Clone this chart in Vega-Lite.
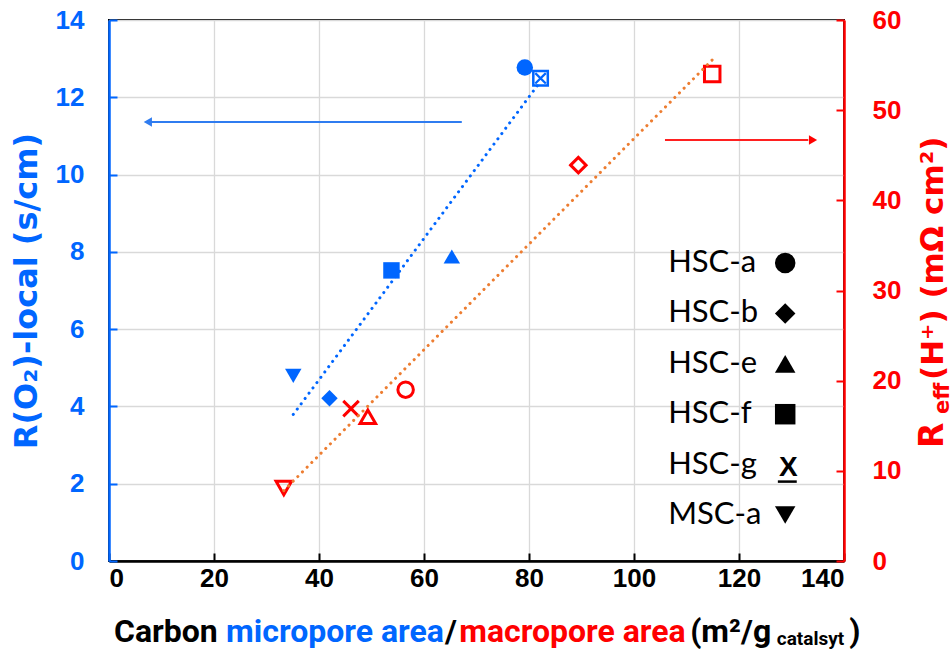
{
  "$schema": "https://vega.github.io/schema/vega-lite/v6.json",
  "width": 735,
  "height": 541,
  "autosize": {"type": "none"},
  "padding": {"left": 109, "top": 20, "right": 107, "bottom": 89},
  "background": "white",
  "config": {
    "view": {"stroke": "#000000", "strokeWidth": 2},
    "axis": {
      "labelFont": "Liberation Sans",
      "labelFontWeight": "bold",
      "labelFontSize": 26,
      "tickSize": -8,
      "tickWidth": 2,
      "domainWidth": 2.5,
      "gridColor": "#D9D9D9",
      "gridWidth": 1.3
    }
  },
  "datasets": {
    "samples": [
      {"sample": "HSC-a", "micro": 79.2, "ro2": 12.77, "macro": 56.5, "rh": 19.0},
      {"sample": "HSC-b", "micro": 42.0, "ro2": 4.21, "macro": 89.4, "rh": 43.9},
      {"sample": "HSC-e", "micro": 65.3, "ro2": 7.88, "macro": 49.3, "rh": 16.0},
      {"sample": "HSC-f", "micro": 53.8, "ro2": 7.52, "macro": 114.9, "rh": 54.0},
      {"sample": "HSC-g", "micro": 82.2, "ro2": 12.49, "macro": 46.1, "rh": 16.9},
      {"sample": "MSC-a", "micro": 35.1, "ro2": 4.79, "macro": 33.3, "rh": 8.1}
    ]
  },
  "layer": [
    {
      "layer": [
        {
          "data": {"name": "samples"},
          "transform": [{"filter": "datum.sample !== 'HSC-g'"}],
          "mark": {"type": "point", "filled": true, "opacity": 1, "size": 270, "color": "#0066FF"},
          "encoding": {
            "x": {
              "field": "micro", "type": "quantitative", "title": null,
              "scale": {"domain": [0, 140], "nice": false, "zero": false},
              "axis": {
                "values": [0, 20, 40, 60, 80, 100, 120, 140],
                "grid": true,
                "labelColor": "#000000",
                "domainColor": "#000000",
                "tickColor": "#000000",
                "labelPadding": 12,
                "title": null
              }
            },
            "y": {
              "field": "ro2", "type": "quantitative",
              "scale": {"domain": [0, 14], "nice": false, "zero": false},
              "axis": {
                "orient": "left",
                "values": [0, 2, 4, 6, 8, 10, 12, 14],
                "grid": true,
                "labelColor": "#0066FF",
                "domainColor": "#0066FF",
                "tickColor": "#0066FF",
                "labelPadding": 33,
                "title": "R(O₂)-local (s/cm)",
                "titleColor": "#0066FF",
                "titleFont": "DejaVu Sans",
                "titleFontSize": 32,
                "titleFontWeight": "bold",
                "titlePadding": 12
              }
            },
            "shape": {
              "field": "sample", "type": "nominal", "legend": null,
              "scale": {
                "domain": ["HSC-a", "HSC-b", "HSC-e", "HSC-f", "HSC-g", "MSC-a"],
                "range": ["circle", "diamond", "triangle-up", "square", "M-1,-1L1,1M1,-1L-1,1", "triangle-down"]
              }
            }
          }
        },
        {
          "data": {"name": "samples"},
          "transform": [{"filter": "datum.sample === 'HSC-g'"}],
          "mark": {"type": "point", "shape": "square", "filled": false, "opacity": 1, "size": 210, "strokeWidth": 2.5, "color": "#0066FF"},
          "encoding": {
            "x": {"field": "micro", "type": "quantitative", "title": null},
            "y": {"field": "ro2", "type": "quantitative"}
          }
        },
        {
          "data": {"name": "samples"},
          "transform": [{"filter": "datum.sample === 'HSC-g'"}],
          "mark": {"type": "point", "shape": "M-1,-1L1,1M1,-1L-1,1", "filled": false, "opacity": 1, "size": 110, "strokeWidth": 2.2, "color": "#0066FF"},
          "encoding": {
            "x": {"field": "micro", "type": "quantitative", "title": null},
            "y": {"field": "ro2", "type": "quantitative"}
          }
        },
        {
          "data": {"name": "samples"},
          "transform": [{"regression": "ro2", "on": "micro"}],
          "mark": {"type": "line", "color": "#0066FF", "strokeWidth": 3, "strokeDash": [0.1, 6.5], "strokeCap": "round"},
          "encoding": {
            "x": {"field": "micro", "type": "quantitative", "title": null},
            "y": {"field": "ro2", "type": "quantitative"}
          }
        },
        {
          "data": {"values": [{}]},
          "mark": {"type": "rule", "color": "#2F7CF0", "strokeWidth": 2},
          "encoding": {"x": {"datum": 7.6}, "x2": {"datum": 67.2}, "y": {"datum": 11.36}}
        },
        {
          "data": {"values": [{}]},
          "mark": {"type": "point", "shape": "triangle-left", "filled": true, "opacity": 1, "size": 90, "color": "#2F7CF0"},
          "encoding": {"x": {"datum": 7.4}, "y": {"datum": 11.36}}
        },
        {
          "data": {"values": [{}]},
          "mark": {"type": "text", "text": "Carbon", "align": "left", "baseline": "alphabetic", "font": "Roboto", "fontSize": 32, "fontWeight": "bold", "color": "#000000"},
          "encoding": {"x": {"datum": 0.95}, "y": {"datum": -2.1}}
        },
        {
          "data": {"values": [{}]},
          "mark": {"type": "text", "text": "micropore area", "align": "left", "baseline": "alphabetic", "font": "Roboto", "fontSize": 32, "fontWeight": "bold", "color": "#0066FF"},
          "encoding": {"x": {"datum": 22.3}, "y": {"datum": -2.1}}
        },
        {
          "data": {"values": [{}]},
          "mark": {"type": "text", "text": "/", "align": "left", "baseline": "alphabetic", "font": "Roboto", "fontSize": 32, "fontWeight": "bold", "color": "#000000"},
          "encoding": {"x": {"datum": 64.0}, "y": {"datum": -2.1}}
        },
        {
          "data": {"values": [{}]},
          "mark": {"type": "text", "text": "macropore area", "align": "left", "baseline": "alphabetic", "font": "Roboto", "fontSize": 32, "fontWeight": "bold", "color": "#FF0000"},
          "encoding": {"x": {"datum": 66.7}, "y": {"datum": -2.1}}
        },
        {
          "data": {"values": [{}]},
          "mark": {"type": "text", "text": "(m²/g", "align": "left", "baseline": "alphabetic", "font": "Roboto", "fontSize": 32, "fontWeight": "bold", "color": "#000000"},
          "encoding": {"x": {"datum": 110.7}, "y": {"datum": -2.1}}
        },
        {
          "data": {"values": [{}]},
          "mark": {"type": "text", "text": "catalsyt", "align": "left", "baseline": "alphabetic", "font": "Roboto", "fontSize": 19, "fontWeight": "bold", "color": "#000000"},
          "encoding": {"x": {"datum": 127.2}, "y": {"datum": -2.17}}
        },
        {
          "data": {"values": [{}]},
          "mark": {"type": "text", "text": ")", "align": "left", "baseline": "alphabetic", "font": "Roboto", "fontSize": 32, "fontWeight": "bold", "color": "#000000"},
          "encoding": {"x": {"datum": 141.0}, "y": {"datum": -2.1}}
        }
      ]
    },
    {
      "layer": [
        {
          "data": {"name": "samples"},
          "mark": {"type": "point", "filled": false, "opacity": 1, "size": 240, "strokeWidth": 3, "color": "#FF0000"},
          "encoding": {
            "x": {"field": "macro", "type": "quantitative", "title": null},
            "y": {
              "field": "rh", "type": "quantitative",
              "scale": {"domain": [0, 60], "nice": false, "zero": false},
              "axis": {
                "orient": "right",
                "values": [0, 10, 20, 30, 40, 50, 60],
                "grid": false,
                "labelColor": "#FF0000",
                "domainColor": "#FF0000",
                "tickColor": "#FF0000",
                "labelPadding": 36,
                "title": null
              }
            },
            "shape": {"field": "sample", "type": "nominal", "legend": null}
          }
        },
        {
          "data": {"name": "samples"},
          "transform": [{"regression": "rh", "on": "macro"}],
          "mark": {"type": "line", "color": "#ED7D31", "strokeWidth": 3, "strokeDash": [0.1, 6.5], "strokeCap": "round"},
          "encoding": {
            "x": {"field": "macro", "type": "quantitative", "title": null},
            "y": {"field": "rh", "type": "quantitative", "title": null}
          }
        },
        {
          "data": {"values": [{}]},
          "mark": {"type": "rule", "color": "#FF2020", "strokeWidth": 2},
          "encoding": {"x": {"datum": 105.9}, "x2": {"datum": 133.2}, "y": {"datum": 46.69}}
        },
        {
          "data": {"values": [{}]},
          "mark": {"type": "point", "shape": "triangle-right", "filled": true, "opacity": 1, "size": 90, "color": "#FF0000"},
          "encoding": {"x": {"datum": 134.1}, "y": {"datum": 46.69}}
        },
        {
          "data": {"values": [{}]},
          "mark": {"type": "text", "text": "R", "angle": 270, "align": "left", "baseline": "alphabetic", "font": "DejaVu Sans", "fontSize": 33, "fontWeight": "bold", "color": "#FF0000"},
          "encoding": {"x": {"datum": 158.9}, "y": {"datum": 12.53}}
        },
        {
          "data": {"values": [{}]},
          "mark": {"type": "text", "text": "eff", "angle": 270, "align": "left", "baseline": "alphabetic", "font": "DejaVu Sans", "fontSize": 21, "fontWeight": "bold", "color": "#FF0000"},
          "encoding": {"x": {"datum": 160.0}, "y": {"datum": 16.3}}
        },
        {
          "data": {"values": [{}]},
          "mark": {"type": "text", "text": "(H⁺) (mΩ cm²)", "angle": 270, "align": "left", "baseline": "alphabetic", "font": "DejaVu Sans", "fontSize": 31, "fontWeight": "bold", "color": "#FF0000"},
          "encoding": {"x": {"datum": 158.9}, "y": {"datum": 20.07}}
        }
      ]
    },
    {
      "layer": [
        {
          "data": {"name": "samples"},
          "mark": {"type": "text", "align": "left", "baseline": "middle", "font": "Lato", "fontSize": 31, "color": "#000000"},
          "encoding": {
            "x": {"datum": 106.5},
            "y": {
              "field": "sample", "type": "ordinal", "axis": null,
              "scale": {"domain": ["HSC-a", "HSC-b", "HSC-e", "HSC-f", "HSC-g", "MSC-a"], "range": [217.8, 520.2]}
            },
            "text": {"field": "sample"}
          }
        },
        {
          "data": {"name": "samples"},
          "transform": [{"filter": "datum.sample !== 'HSC-g'"}],
          "mark": {"type": "point", "filled": true, "opacity": 1, "size": 420, "color": "#000000"},
          "encoding": {
            "x": {"datum": 128.8},
            "y": {"field": "sample", "type": "ordinal", "axis": null},
            "shape": {"field": "sample", "type": "nominal", "legend": null}
          }
        },
        {
          "data": {"values": [{}]},
          "mark": {"type": "text", "text": "X", "align": "center", "baseline": "middle", "dy": 3, "font": "Liberation Sans", "fontSize": 28, "fontWeight": "bold", "color": "#000000"},
          "encoding": {"x": {"datum": 129.4}, "y": {"datum": "HSC-g", "type": "ordinal", "axis": null}}
        },
        {
          "data": {"values": [{}]},
          "mark": {"type": "rule", "color": "#000000", "strokeWidth": 2.5, "yOffset": 17},
          "encoding": {"x": {"datum": 127.4}, "x2": {"datum": 131.0}, "y": {"datum": "HSC-g", "type": "ordinal", "axis": null}}
        }
      ]
    }
  ],
  "resolve": {"scale": {"y": "independent"}}
}
